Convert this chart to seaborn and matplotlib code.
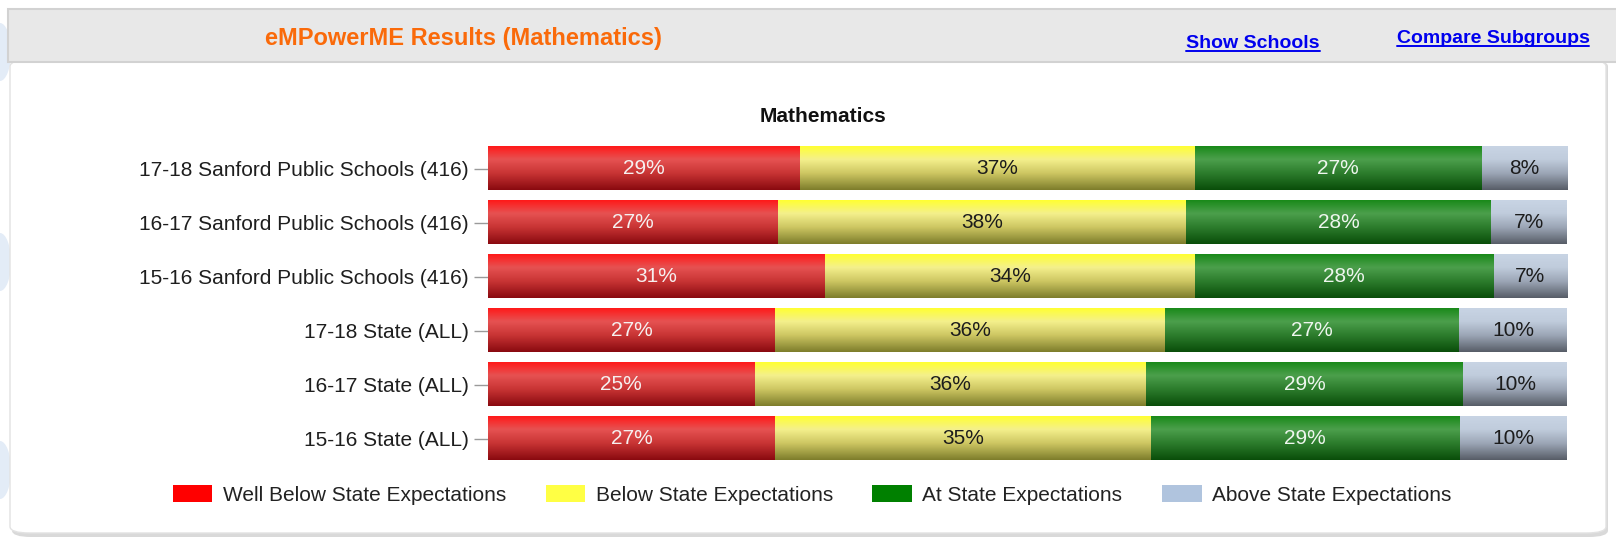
"""eMPowerME mathematics results: stacked horizontal bars by year and group."""

import matplotlib

matplotlib.use("Agg")

import matplotlib.pyplot as plt
import numpy as np
import seaborn as sns
from matplotlib.colors import to_rgb
from matplotlib.lines import Line2D
from matplotlib.patches import Ellipse, FancyBboxPatch, Patch, Rectangle

groups = [
    "17-18 Sanford Public Schools (416)",
    "16-17 Sanford Public Schools (416)",
    "15-16 Sanford Public Schools (416)",
    "17-18 State (ALL)",
    "16-17 State (ALL)",
    "15-16 State (ALL)",
]
levels = [
    "Well Below State Expectations",
    "Below State Expectations",
    "At State Expectations",
    "Above State Expectations",
]
well_below = [28.9, 26.9, 31.2, 26.6, 24.7, 26.6]
below = [36.6, 37.8, 34.3, 36.1, 36.3, 34.8]
at_exp = [26.6, 28.3, 27.7, 27.3, 29.4, 28.7]
above = [7.9, 7.0, 6.8, 10.0, 9.6, 9.9]

legend_colors = ["#ff0000", "#ffff44", "#008000", "#b0c4de"]
# glossy gradient stops (top -> bottom) for each level
gradients = [
    ["#ff1a1a", "#e65252", "#c83434", "#8a0a10"],
    ["#ffff33", "#f4f08c", "#cdc662", "#7e7e2c"],
    ["#1a8a1a", "#4c9f4c", "#2c7c2c", "#0a4e0a"],
    ["#c8d4e4", "#c0ccdc", "#9ca6b6", "#585e68"],
]
label_colors = ["#f6f0f0", "#1c1c1c", "#eef6ee", "#1c1c1c"]


def gradient_image(stops, n=60):
    pos = [0.0, 0.3, 0.62, 1.0]
    t = np.linspace(0, 1, n)
    rgb = np.array([to_rgb(c) for c in stops])
    cols = np.stack([np.interp(t, pos, rgb[:, k]) for k in range(3)], axis=1)
    return cols[:, None, :]


sns.set_theme(style="white")
plt.rcParams["font.family"] = ["Liberation Sans", "DejaVu Sans"]

W, H = 1616, 540
fig = plt.figure(figsize=(W / 100, H / 100), dpi=100)
fig.patch.set_facecolor("white")


def fx(px):
    return px / W


def fy(py):
    return 1 - py / H


# page decorations on the left edge
for cy in (52, 262, 470):
    fig.patches.append(
        Ellipse((fx(0), fy(cy)), fx(22), 58 / H, transform=fig.transFigure,
                facecolor="#e3ecf7", edgecolor="none", zorder=-3)
    )

# white panel with soft shadow
fig.patches.append(
    FancyBboxPatch((fx(12), fy(537)), fx(1596), (537 - 60) / H,
                   boxstyle="round,pad=0,rounding_size=0.012",
                   transform=fig.transFigure, facecolor="#d9d9d9",
                   edgecolor="none", zorder=-2)
)
fig.patches.append(
    FancyBboxPatch((fx(10), fy(533)), fx(1596), (533 - 60) / H,
                   boxstyle="round,pad=0,rounding_size=0.012",
                   transform=fig.transFigure, facecolor="white",
                   edgecolor="#e2e2e2", linewidth=1, zorder=-1)
)

# header strip
fig.patches.append(
    Rectangle((fx(8), fy(62)), fx(1616), 53 / H, transform=fig.transFigure,
              facecolor="#e8e8e8", edgecolor="#d2d2d2", linewidth=1.5, zorder=-1)
)
fig.text(fx(463), fy(39), "eMPowerME Results (Mathematics)", color="#fa6a0a",
         fontsize=17, fontweight="bold", ha="center", va="center")
links = [
    fig.text(fx(1253), fy(48), "Show Schools", color="#0000ee", fontsize=14,
             fontweight="bold", ha="center", va="baseline"),
    fig.text(fx(1493), fy(43), "Compare Subgroups", color="#0000ee", fontsize=14,
             fontweight="bold", ha="center", va="baseline"),
]

ax = fig.add_axes([fx(488), fy(465.5), fx(1567 - 488), (465.5 - 141.5) / H])
ax.set_facecolor("none")

series = [well_below, below, at_exp, above]
cums = np.cumsum(np.array(series), axis=0)

# stacked bars: draw cumulative totals from longest to shortest
for k in range(len(series) - 1, -1, -1):
    sns.barplot(x=cums[k], y=groups, orient="h", color=legend_colors[k],
                saturation=1, width=0.8, ax=ax, linewidth=0)

for k, vals in enumerate(series):
    img = gradient_image(gradients[k])
    for i, v in enumerate(vals):
        right = cums[k][i]
        left = right - v
        ax.imshow(img, extent=(left, right, i + 0.4, i - 0.4), aspect="auto",
                  interpolation="bilinear", zorder=3)
        ax.text((left + right) / 2, i, f"{v:.0f}%", ha="center", va="center",
                fontsize=15, color=label_colors[k], zorder=4)

ax.set_xlim(0, 100)
ax.set_ylim(len(groups) - 0.5, -0.5)
ax.set_xlabel("")
ax.set_ylabel("")
ax.set_xticks([])
sns.despine(ax=ax, left=True, bottom=True)
ax.tick_params(axis="y", left=True, length=10, width=1, color="#9a9a9a",
               pad=4, labelsize=15, labelcolor="#1e1e1e")

fig.text(fx(823), fy(117), "Mathematics", fontsize=15, fontweight="bold",
         color="#111111", ha="center", va="center")

handles = [Patch(facecolor=c, edgecolor="none") for c in legend_colors]
fig.legend(handles, levels, ncol=4, loc="center",
           bbox_to_anchor=(fx(812), fy(495)), frameon=False, fontsize=15,
           handlelength=1.9, handleheight=0.85, handletextpad=0.5,
           columnspacing=1.9, labelcolor="#222222")

# underline the header links
fig.canvas.draw()
renderer = fig.canvas.get_renderer()
for t in links:
    bb = t.get_window_extent(renderer)
    x0, y0 = t.get_position()
    base = y0 * H - 2.5
    fig.lines.append(
        Line2D([bb.x0 / W, bb.x1 / W], [base / H, base / H], color="#0000ee",
               linewidth=1.4, transform=fig.transFigure)
    )

fig.savefig("out.png", dpi=100)
